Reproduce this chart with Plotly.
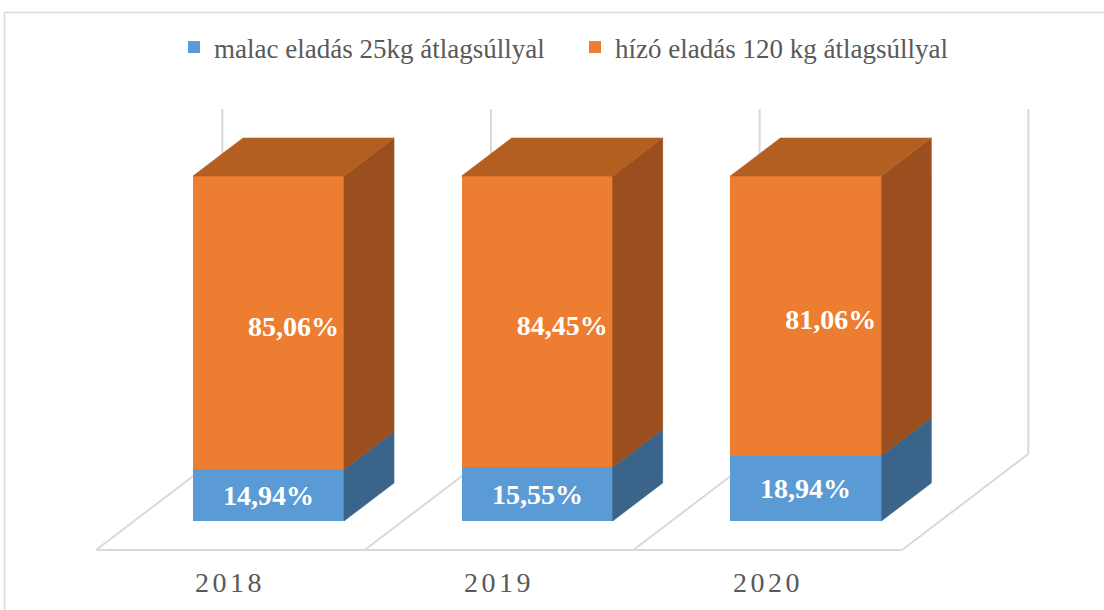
import plotly.graph_objects as go

# ---- data ----
years = ["2018", "2019", "2020"]
malac = [14.94, 15.55, 18.94]      # malac eladás 25kg átlagsúllyal (%)
hizo = [85.06, 84.45, 81.06]       # hízó eladás 120 kg átlagsúllyal (%)
series_names = ["malac eladás 25kg átlagsúllyal", "hízó eladás 120 kg átlagsúllyal"]

# ---- styling / geometry constants ----
W_FIG, H_FIG = 1104, 610
PX_CAT = 268.67          # pixels per category
PX_PCT = 3.45            # pixels per percent
X0_PX, Y0_PX = 268.5, 521.0   # pixel position of category 0 / value 0
BAR_W = 151 / PX_CAT
DX = 50 / PX_CAT         # depth offset (x) per unit of bar depth
DY = 38 / PX_PCT         # depth offset (y) per unit of bar depth
D_FRONT, D_BACK = -0.763, 1.763   # floor depth extent (bar occupies 0..1)

BLUE, BLUE_SIDE = "#5B9BD5", "#3B648A"
ORANGE, ORANGE_TOP, ORANGE_SIDE = "#ED7D31", "#B45F22", "#9B4F1E"
GRID = "#D9D9D9"
TXT = "#595959"
SERIF = "Liberation Serif"
LABEL_FONT = dict(family=SERIF, size=28, color="white", weight="bold")


def proj(x, y, d):
    return x + d * DX, y + d * DY


def fmt(v):
    return f"{v:.2f}%".replace(".", ",")


xs = list(range(len(years)))
fig = go.Figure()

# front faces (real stacked bars); blue labels inside the bars
fig.add_trace(go.Bar(
    x=xs, y=malac, width=BAR_W, name=series_names[0],
    marker=dict(color=BLUE, line=dict(width=0)),
    text=[fmt(v) for v in malac], textposition="inside",
    insidetextanchor="middle", textangle=0, constraintext="none",
    textfont=LABEL_FONT, hoverinfo="skip",
))
fig.add_trace(go.Bar(
    x=xs, y=hizo, width=BAR_W, name=series_names[1],
    marker=dict(color=ORANGE, line=dict(width=0)),
    hoverinfo="skip",
))

# side and top faces
def poly(pts, color):
    px = [p[0] for p in pts] + [pts[0][0]]
    py = [p[1] for p in pts] + [pts[0][1]]
    fig.add_trace(go.Scatter(x=px, y=py, mode="lines", fill="toself",
                             fillcolor=color, line=dict(color=color, width=0.6),
                             showlegend=False, hoverinfo="skip"))

for i in xs:
    xl, xr = i - BAR_W / 2, i + BAR_W / 2
    b0, b1, b2 = 0, malac[i], malac[i] + hizo[i]
    for lo, hi, col in [(b0, b1, BLUE_SIDE), (b1, b2, ORANGE_SIDE)]:
        poly([proj(xr, lo, 0), proj(xr, lo, 1), proj(xr, hi, 1), proj(xr, hi, 0)], col)
    poly([proj(xl, b2, 0), proj(xl, b2, 1), proj(xr, b2, 1), proj(xr, b2, 0)], ORANGE_TOP)

# orange labels: centred on the segment, shifted by half the depth (as Excel 3D does)
fig.add_trace(go.Scatter(
    x=[i + DX / 2 for i in xs],
    y=[malac[i] + hizo[i] / 2 - 1.8 for i in xs],
    mode="text", text=[fmt(v) for v in hizo], textfont=LABEL_FONT,
    textposition="middle center", showlegend=False, hoverinfo="skip",
))

# floor / wall grid lines (below traces)
shapes = []
bounds = [i - 0.5 for i in xs] + [xs[-1] + 0.5]
fx0, fy0 = proj(bounds[0], 0, D_FRONT)
fx1, fy1 = proj(bounds[-1], 0, D_FRONT)
shapes.append(dict(type="line", xref="x", yref="y", x0=fx0, y0=fy0, x1=fx1, y1=fy1,
                   line=dict(color=GRID, width=2), layer="below"))
for bnd in bounds:
    ax, ay = proj(bnd, 0, D_FRONT)
    bx, by = proj(bnd, 0, D_BACK)
    tx, ty = proj(bnd, 100, D_BACK)
    shapes.append(dict(type="line", xref="x", yref="y", x0=ax, y0=ay, x1=bx, y1=by,
                       line=dict(color=GRID, width=2), layer="below"))
    shapes.append(dict(type="line", xref="x", yref="y", x0=bx, y0=by, x1=tx, y1=ty,
                       line=dict(color=GRID, width=2), layer="below"))
# chart area border
shapes.append(dict(type="rect", xref="paper", yref="paper",
                   x0=4.5 / W_FIG, x1=1.05, y0=-0.05, y1=1 - 12.5 / H_FIG,
                   line=dict(color=GRID, width=1.5), layer="below"))

# category labels
annotations = []
for i, yr in enumerate(years):
    lx, _ = proj(i, 0, D_FRONT)
    annotations.append(dict(x=lx, y=(Y0_PX - 582) / PX_PCT, xref="x", yref="y",
                            text=f'<span style="letter-spacing:3.5px">{yr}</span>',
                            showarrow=False,
                            font=dict(family=SERIF, size=28, color=TXT)))

x_lo = (0 - X0_PX) / PX_CAT
x_hi = (W_FIG - X0_PX) / PX_CAT
y_hi = Y0_PX / PX_PCT
y_lo = (Y0_PX - H_FIG) / PX_PCT

fig.update_layout(
    width=W_FIG, height=H_FIG,
    margin=dict(l=0, r=0, t=0, b=0, pad=0),
    paper_bgcolor="white", plot_bgcolor="white",
    barmode="stack", bargap=0,
    xaxis=dict(range=[x_lo, x_hi], visible=False, fixedrange=True),
    yaxis=dict(range=[y_lo, y_hi], visible=False, fixedrange=True),
    shapes=shapes, annotations=annotations,
    showlegend=True,
    legend=dict(orientation="h", x=174 / W_FIG, xanchor="left",
                y=1 - 23 / H_FIG, yanchor="top",
                font=dict(family=SERIF, size=27, color=TXT),
                traceorder="normal", entrywidth=356, entrywidthmode="pixels",
                bgcolor="rgba(0,0,0,0)"),
)

fig.write_html("out.html", config={"displayModeBar": False},
               post_script="document.body.style.margin='0px';")
